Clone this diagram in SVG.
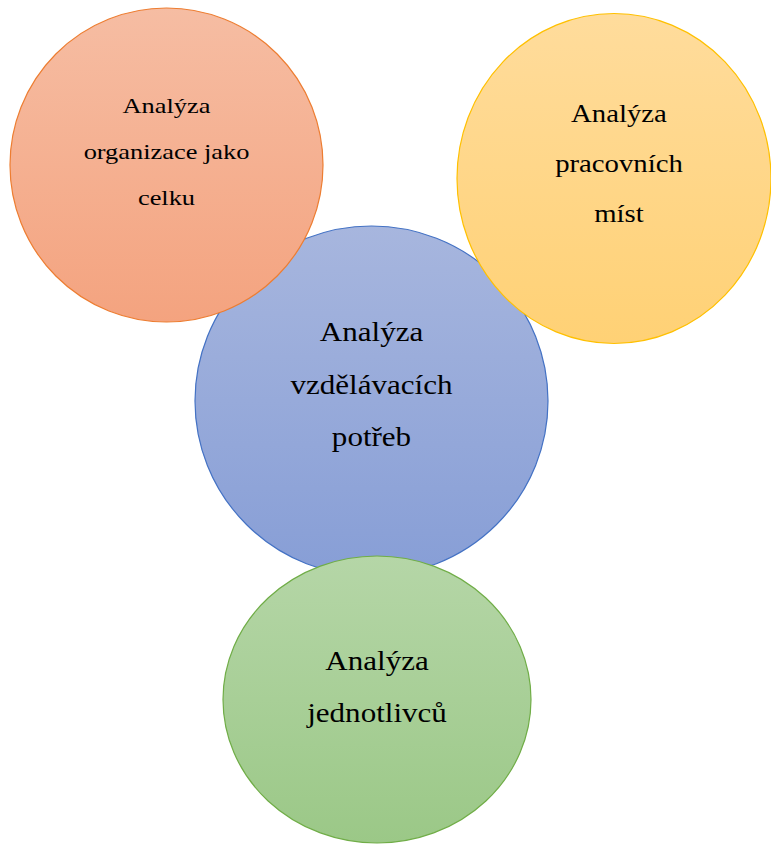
<svg xmlns="http://www.w3.org/2000/svg" width="771" height="845" viewBox="0 0 771 845">
<defs>
<linearGradient id="gO" x1="0" y1="0" x2="0" y2="1"><stop offset="0" stop-color="#F6BDA3"/><stop offset="1" stop-color="#F4A37F"/></linearGradient>
<linearGradient id="gY" x1="0" y1="0" x2="0" y2="1"><stop offset="0" stop-color="#FFDC9C"/><stop offset="1" stop-color="#FFD175"/></linearGradient>
<linearGradient id="gB" x1="0" y1="0" x2="0" y2="1"><stop offset="0" stop-color="#A7B6DE"/><stop offset="1" stop-color="#879ED6"/></linearGradient>
<linearGradient id="gG" x1="0" y1="0" x2="0" y2="1"><stop offset="0" stop-color="#B5D6A7"/><stop offset="1" stop-color="#9BC887"/></linearGradient>
<style>
text{font-family:"Liberation Serif","Times New Roman",serif;fill:#000;text-anchor:middle}
.s{font-size:22px}
.m{font-size:25px}
.l{font-size:27px}
</style>
</defs>
<g id="blue">
<ellipse cx="371.5" cy="401" rx="176.5" ry="175" fill="url(#gB)" stroke="#4472C4" stroke-width="1.2"/>
<text class="l" transform="translate(371.5,341) scale(1.15,1)">Analýza</text>
<text class="l" transform="translate(371.5,394) scale(1.15,1)">vzdělávacích</text>
<text class="l" transform="translate(371.5,446) scale(1.15,1)">potřeb</text>
</g>
<g id="orange">
<ellipse cx="166.5" cy="165" rx="156.5" ry="157" fill="url(#gO)" stroke="#ED7D31" stroke-width="1.2"/>
<text class="s" transform="translate(166.5,113) scale(1.2,1)">Analýza</text>
<text class="s" transform="translate(166.5,159) scale(1.2,1)">organizace jako</text>
<text class="s" transform="translate(166.5,205) scale(1.2,1)">celku</text>
</g>
<g id="yellow">
<ellipse cx="614" cy="178.5" rx="157" ry="165" fill="url(#gY)" stroke="#FFC000" stroke-width="1.2"/>
<text class="m" transform="translate(619,122) scale(1.15,1)">Analýza</text>
<text class="m" transform="translate(619,172) scale(1.15,1)">pracovních</text>
<text class="m" transform="translate(619,222) scale(1.15,1)">míst</text>
</g>
<g id="green">
<ellipse cx="377" cy="699.5" rx="154" ry="143.5" fill="url(#gG)" stroke="#70AD47" stroke-width="1.2"/>
<text class="l" transform="translate(377,670) scale(1.15,1)">Analýza</text>
<text class="l" transform="translate(377,722) scale(1.15,1)">jednotlivců</text>
</g>
<g id="connectors"/>
</svg>
